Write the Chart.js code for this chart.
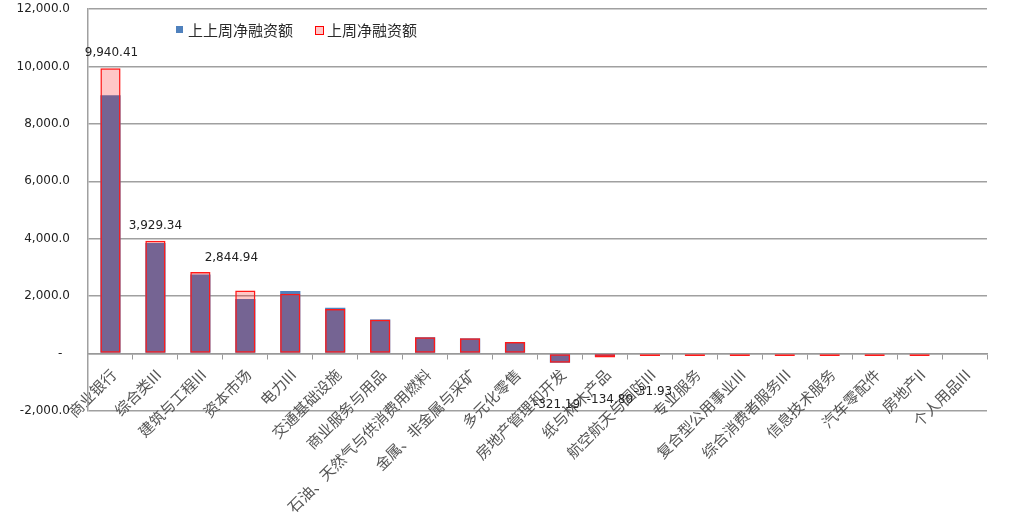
<!DOCTYPE html>
<html>
<head>
<meta charset="utf-8">
<script src="https://cdn.jsdelivr.net/npm/chart.js@4.4.0/dist/chart.umd.min.js"></script>
<style>
  body { margin: 0; background: #fff; }
  #wrap { width: 1012px; height: 527px; position: relative; }
</style>
</head>
<body>
<div id="wrap"><canvas id="myChart"></canvas></div>
<script>
const categories = ['商业银行', '综合类III', '建筑与工程III', '资本市场', '电力III', '交通基础设施',
    '商业服务与用品', '石油、天然气与供消费用燃料', '金属、非金属与采矿', '多元化零售',
    '房地产管理和开发', '纸与林木产品', '航空航天与国防III', '专业服务', '复合型公用事业III',
    '综合消费者服务III', '信息技术服务', '汽车零配件', '房地产II', '个人用品III'];

// 上上周净融资额
const prevPrevWeek = [9000, 3850, 2750, 1900, 2180, 1600, 1190, 570, 530, 400,
    -320, -110, 0, 0, 0, 0, 0, 0, 0, null];
// 上周净融资额
const prevWeek = [9940.41, 3929.34, 2844.94, 2200, 2080, 1550, 1180, 570, 530, 400,
    -321.19, -134.80, -31.93, -30, -30, -30, -30, -30, -30, null];

// which bars of 上周 carry a value label
const labelled = [0, 1, 2, 10, 11, 12];

const yTicks = [-2000, 0, 2000, 4000, 6000, 8000, 10000, 12000];

const fmt2 = v => v.toLocaleString('en-US', { minimumFractionDigits: 2, maximumFractionDigits: 2 });
const fmt1 = v => v === 0 ? '-  ' : v.toLocaleString('en-US', { minimumFractionDigits: 1, maximumFractionDigits: 1 });

// label offsets (px) relative to bar end
const labelShift = { 0: [1, -15], 1: [0, -15], 2: [31, -14], 10: [-3, 42], 11: [5, 42], 12: [3, 37] };

const valueLabels = {
    id: 'valueLabels',
    afterDatasetsDraw(chart) {
        const ctx = chart.ctx;
        const meta = chart.getDatasetMeta(1);
        const y = chart.scales.y;
        ctx.save();
        ctx.font = '12px "DejaVu Sans"';
        ctx.fillStyle = '#222';
        ctx.textAlign = 'center';
        ctx.textBaseline = 'middle';
        labelled.forEach(i => {
            const bar = meta.data[i];
            const s = labelShift[i] || [0, 0];
            ctx.fillText(fmt2(prevWeek[i]), bar.x + s[0], y.getPixelForValue(prevWeek[i]) + s[1]);
        });
        ctx.restore();
    }
};

const topLegend = {
    id: 'topLegend',
    afterDraw(chart) {
        const ctx = chart.ctx;
        ctx.save();
        ctx.font = '15px "Noto Sans CJK SC"';
        ctx.textBaseline = 'middle';
        let x = 176;
        const y = 30;
        chart.data.datasets.forEach((ds, i) => {
            if (i === 0) {
                ctx.fillStyle = '#4F81BD';
                ctx.fillRect(x, y - 4, 7, 7);
            } else {
                ctx.fillStyle = '#FFC8C8';
                ctx.fillRect(x, y - 4, 8, 8);
                ctx.strokeStyle = '#FF0000';
                ctx.lineWidth = 1;
                ctx.strokeRect(x + 0.5, y - 3.5, 8, 8);
            }
            ctx.fillStyle = '#2a2a2a';
            ctx.fillText(ds.label, x + 12, y);
            x += 12 + ctx.measureText(ds.label).width + 22;
        });
        ctx.restore();
    }
};

const ctx = document.getElementById('myChart').getContext('2d');
const myChart = new Chart(ctx, {
    type: 'bar',
    data: {
        labels: categories,
        datasets: [{
            label: '上上周净融资额',
            data: prevPrevWeek,
            backgroundColor: '#4F81BD',
            borderWidth: 0,
            grouped: false,
            order: 2
        }, {
            label: '上周净融资额',
            data: prevWeek,
            backgroundColor: 'rgba(255, 0, 0, 0.22)',
            borderColor: 'rgb(255, 25, 25)',
            borderWidth: 1.5,
            borderSkipped: false,
            minBarLength: 2.5,
            grouped: false,
            order: 1
        }]
    },
    options: {
        responsive: true,
        maintainAspectRatio: false,
        animation: false,
        categoryPercentage: 1,
        barPercentage: 0.45,
        layout: {
            padding: { left: 0, right: 25, top: 9, bottom: 116 }
        },
        plugins: {
            legend: { display: false },
            tooltip: { enabled: false }
        },
        scales: {
            x: {
                position: { y: 0 },
                offset: true,
                grid: {
                    offset: true,
                    drawOnChartArea: false,
                    drawTicks: true,
                    tickLength: 5,
                    color: '#999'
                },
                border: { color: '#999', width: 1.5 },
                ticks: {
                    autoSkip: false,
                    minRotation: 45,
                    maxRotation: 45,
                    padding: 7,
                    labelOffset: 3,
                    color: '#555',
                    font: { family: '"Noto Sans CJK SC"', size: 15 }
                }
            },
            y: {
                min: -2000,
                max: 12000,
                afterFit(scale) { scale.width = 88; },
                afterBuildTicks(scale) { scale.ticks = yTicks.map(v => ({ value: v })); },
                grid: { color: '#a0a0a0', lineWidth: 1.5, drawTicks: true, tickLength: 17, tickColor: 'rgba(0,0,0,0)' },
                border: { color: '#a0a0a0', width: 1.5 },
                ticks: {
                    padding: 1,
                    color: '#222',
                    font: { family: '"DejaVu Sans"', size: 12 },
                    callback: v => fmt1(v)
                }
            }
        }
    },
    plugins: [valueLabels, topLegend]
});
</script>
</body>
</html>
